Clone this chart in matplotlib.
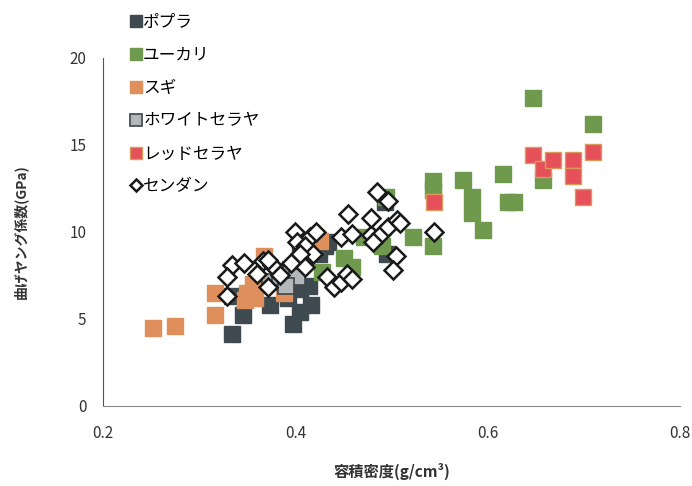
import matplotlib
matplotlib.use('Agg')
import matplotlib.pyplot as plt

plt.rcParams['font.family'] = ['Noto Sans CJK JP', 'DejaVu Sans']

# データ（容積密度 g/cm3, 曲げヤング係数 GPa）
poplar_x = [0.334, 0.345, 0.334, 0.374, 0.397, 0.405, 0.416, 0.405, 0.414, 0.405,
            0.410, 0.424, 0.431, 0.434, 0.495, 0.493, 0.392]
poplar_y = [4.1, 5.2, 6.3, 5.8, 4.7, 5.4, 5.8, 6.7, 6.9, 9.0,
            9.5, 8.7, 9.2, 9.4, 8.7, 11.7, 6.2]

euca_x = [0.494, 0.543, 0.543, 0.574, 0.584, 0.584, 0.595, 0.616, 0.621, 0.627,
          0.522, 0.543, 0.471, 0.490, 0.450, 0.459, 0.428, 0.647, 0.709, 0.657]
euca_y = [12.0, 12.9, 12.4, 13.0, 12.0, 11.1, 10.1, 13.3, 11.7, 11.7,
          9.7, 9.2, 9.7, 9.2, 8.5, 8.0, 7.7, 17.7, 16.2, 13.0]

sugi_x = [0.252, 0.275, 0.316, 0.316, 0.350, 0.358, 0.348, 0.356, 0.367, 0.388,
          0.419, 0.426]
sugi_y = [4.5, 4.6, 6.5, 5.2, 6.5, 6.2, 6.1, 7.0, 8.6, 6.5,
          9.6, 9.5]

white_x = [0.374, 0.384, 0.395, 0.402, 0.390]
white_y = [7.1, 7.4, 7.8, 7.4, 6.9]

red_x = [0.544, 0.647, 0.657, 0.668, 0.689, 0.689, 0.709, 0.699]
red_y = [11.7, 14.4, 13.6, 14.1, 14.1, 13.2, 14.6, 12.0]

sendan_x = [0.334, 0.346, 0.329, 0.329, 0.366, 0.360, 0.376, 0.384, 0.371, 0.371,
            0.400, 0.415, 0.402, 0.410, 0.418, 0.405, 0.395, 0.410,
            0.421, 0.447, 0.459, 0.478, 0.489, 0.496, 0.481,
            0.455, 0.478, 0.485, 0.496, 0.506, 0.509,
            0.504, 0.501, 0.544,
            0.433, 0.440, 0.447, 0.454, 0.459]
sendan_y = [8.1, 8.2, 7.4, 6.3, 8.3, 7.6, 8.1, 7.5, 6.8, 8.4,
            10.0, 9.7, 9.4, 9.2, 8.7, 8.7, 8.2, 8.0,
            10.0, 9.7, 9.9, 9.8, 9.9, 10.3, 9.4,
            11.0, 10.8, 12.3, 11.8, 10.7, 10.5,
            8.6, 7.8, 10.0,
            7.4, 6.8, 7.1, 7.6, 7.3]

fig = plt.figure(figsize=(6.92, 4.86), dpi=100)
ax = fig.add_axes([0.149, 0.165, 0.834, 0.716])

ms = 12
ax.plot(poplar_x, poplar_y, 's', ms=ms, color='#3e4a50', mec='#3e4a50', label='ポプラ')
ax.plot(euca_x, euca_y, 's', ms=ms, color='#6f9a4e', mec='#6f9a4e', label='ユーカリ')
ax.plot(sugi_x, sugi_y, 's', ms=ms, color='#de8f5c', mec='#de8f5c', label='スギ')
ax.plot(white_x, white_y, 's', ms=ms, color='#b4b7ba', mec='#3e4448', mew=1.2, label='ホワイトセラヤ')
ax.plot(red_x, red_y, 's', ms=ms, color='#e6505a', mec='#d99a5a', mew=1.0, label='レッドセラヤ')
ax.plot(sendan_x, sendan_y, 'D', ms=9.3, color='white', mec='#1a1a1a', mew=1.8, label='センダン')

ax.set_xlim(0.2, 0.8)
ax.set_ylim(0, 20)
ax.set_xticks([0.2, 0.4, 0.6, 0.8])
ax.set_yticks([0, 5, 10, 15, 20])
ax.tick_params(length=0, labelsize=11, colors='#333333', pad=12)
ax.tick_params(axis='x', pad=14)
for s in ['top', 'right']:
    ax.spines[s].set_visible(False)
ax.spines['left'].set_color('#555555')
ax.spines['bottom'].set_color('#888888')

ax.set_xlabel('容積密度(g/cm³)', fontsize=11, fontweight='bold', color='#333333', labelpad=15)
ax.set_ylabel('曲げヤング係数(GPa)', fontsize=10, fontweight='bold', color='#333333', labelpad=30)

fig.legend(loc='upper left', bbox_to_anchor=(0.172, 0.995), frameon=False,
           fontsize=12, handlelength=0.6, handletextpad=0.15, labelspacing=0.95,
           markerscale=0.7, borderpad=0.2)

plt.savefig('out.png', dpi=100)
